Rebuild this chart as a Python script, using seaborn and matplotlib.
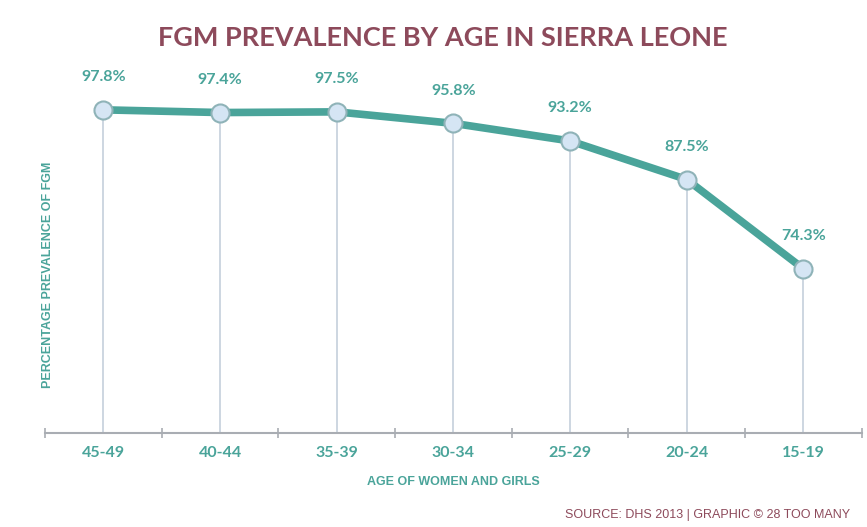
import matplotlib
matplotlib.use("Agg")
import matplotlib.pyplot as plt
import seaborn as sns
import pandas as pd

ages = ["45-49", "40-44", "35-39", "30-34", "25-29", "20-24", "15-19"]
prevalence = [97.8, 97.4, 97.5, 95.8, 93.2, 87.5, 74.3]

teal = "#4aa49a"
maroon = "#8d4a5b"
grid_col = "#c9d3de"

sns.set_style("white")
df = pd.DataFrame({"pos": range(len(ages)), "age": ages, "val": prevalence})

fig = plt.figure(figsize=(8.67, 5.27), dpi=100)
ax = fig.add_axes([0.052, 0.178, 0.942, 0.706])

# drop lines from each point to the baseline
ax.vlines(df["pos"], 50, df["val"], color=grid_col, lw=1.3, zorder=1)

sns.lineplot(data=df, x="pos", y="val", ax=ax, color=teal, lw=5.5,
             marker="o", markersize=13, markerfacecolor="#d5e5f4",
             markeredgecolor="#8fb3b8", markeredgewidth=1.5, zorder=3)

for i, v in enumerate(prevalence):
    ax.text(i, v + 3.8, f"{v}%", ha="center", va="bottom", fontsize=11.5,
            fontfamily="Lato", fontweight="bold", color=teal)

ax.set_xlim(-0.5, len(ages) - 0.5)
ax.set_ylim(50, 105)
ax.set_yticks([])
ax.set_xticks(range(len(ages)))
ax.set_xticklabels(ages, fontfamily="Lato", fontweight="bold", fontsize=11.5, color=teal)
ax.set_xticks([i - 0.5 for i in range(len(ages) + 1)], minor=True)
ax.tick_params(axis="x", which="major", length=0, pad=9)
ax.tick_params(axis="x", which="minor", bottom=True, length=7, direction="inout",
               color="#a9adb3", width=1.2)
for s in ["top", "right", "left"]:
    ax.spines[s].set_visible(False)
ax.spines["bottom"].set_color("#a9adb3")
ax.spines["bottom"].set_linewidth(1.5)

ax.set_xlabel("AGE OF WOMEN AND GIRLS", fontfamily="Liberation Sans", fontsize=9,
              fontweight="bold", color=teal, labelpad=12)
ax.set_ylabel("")
fig.text(0.055, 0.478, "PERCENTAGE PREVALENCE OF FGM", rotation=90, ha="center", va="center",
         fontfamily="Liberation Sans", fontsize=9, fontweight="bold", color=teal)

fig.text(0.511, 0.928, "FGM PREVALENCE BY AGE IN SIERRA LEONE", ha="center", va="center",
         fontfamily="Lato", fontweight="bold", fontsize=19.5, color=maroon)
fig.text(0.98, 0.022, "SOURCE: DHS 2013 | GRAPHIC © 28 TOO MANY", ha="right", va="center",
         fontfamily="Liberation Sans", fontsize=9, color=maroon)

fig.savefig("out.png", dpi=100)
